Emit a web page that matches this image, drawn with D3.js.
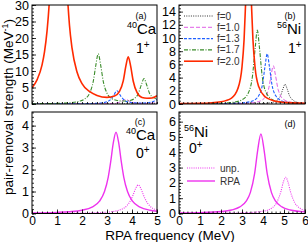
<!DOCTYPE html>
<html>
<head>
<meta charset="utf-8">
<script src="https://cdn.jsdelivr.net/npm/d3@7"></script>
<style>
body { margin: 0; background: #fff; }
svg { font-family: "Liberation Sans", Arial, sans-serif; }
</style>
</head>
<body>
<div id="chart"></div>
<script>
// ---- data: [RPA frequency (MeV), strength (MeV^-1)] ----
// (a) 40Ca 1+
var caF0  = [[0,0],[2,0.01],[3,0.015],[4,0.04],[4.5,0.08],[4.8,0.15],[5,0.25]];
var caF10 = [[0,0],[2,0.03],[3,0.09],[3.3,0.21],[3.5,0.49],[3.65,1.08],[3.75,1.42],[3.85,1.09],[4,0.52],[4.2,0.25],[4.5,0.18],[4.7,0.22],[4.85,0.31],[5,0.5]];
var caF13 = [[0,0.02],[1.5,0.04],[2.5,0.17],[2.9,0.48],[3.1,1.08],[3.25,2.4],[3.4,4.0],[3.55,2.4],[3.7,1.1],[3.9,0.53],[4.2,0.31],[4.5,0.32],[4.7,0.46],[4.85,0.74],[5,1.42]];
var caF17 = [[0,0.08],[1,0.2],[1.5,0.39],[1.9,0.86],[2.1,1.51],[2.3,3.22],[2.45,6.83],[2.55,11.6],[2.65,15.2],[2.75,11.64],[2.85,6.86],[3,3.27],[3.2,1.61],[3.5,0.95],[3.7,0.9],[3.9,1.05],[4.1,1.7],[4.25,3.1],[4.38,5.96],[4.48,7.74],[4.58,5.93],[4.71,3.1],[4.85,2.0],[5,1.6]];
var caF20 = [[0,4.9],[0.2,7.3],[0.4,11.8],[0.5,15.8],[0.6,22],[0.7,32],[0.8,51],[0.9,82],[1.06,130],[1.2,90],[1.3,56],[1.4,35.5],[1.5,23.8],[1.6,17],[1.8,9.7],[2,6.2],[2.3,3.8],[2.6,2.6],[3,2.0],[3.3,2.4],[3.5,3.8],[3.65,7.0],[3.75,11.3],[3.85,14.3],[3.95,11.3],[4.05,6.9],[4.2,3.5],[4.4,1.95],[4.6,1.75],[4.8,1.8],[5,2.5]];
// (b) 56Ni 1+
var niF0  = [[0,0.004],[3,0.023],[4,0.085],[4.5,0.29],[4.82,1.14],[4.95,2.29],[5.05,3.0],[5.15,2.29],[5.28,1.14],[5.6,0.29],[6,0.1]];
var niF10 = [[0,0.009],[2,0.03],[3,0.08],[3.6,0.23],[4,0.69],[4.26,2.2],[4.39,4.43],[4.49,5.8],[4.59,4.43],[4.72,2.2],[4.98,0.69],[5.4,0.22],[6,0.08]];
var niF13 = [[0,0.014],[2,0.05],[3,0.17],[3.5,0.47],[3.8,1.28],[3.97,2.88],[4.1,5.8],[4.2,7.6],[4.3,5.8],[4.43,2.88],[4.6,1.28],[4.9,0.47],[5.4,0.17],[6,0.075]];
var niF17 = [[0,0.03],[1,0.05],[2,0.12],[2.6,0.28],[3,0.64],[3.3,1.67],[3.5,4.26],[3.63,8.56],[3.73,11.2],[3.83,8.56],[3.96,4.26],[4.16,1.67],[4.5,0.58],[5,0.22],[6,0.07]];
var niF20 = [[0,0.05],[1,0.1],[2,0.35],[2.5,0.9],[2.8,2.3],[3,5.6],[3.1,9.8],[3.2,17.5],[3.31,24.1],[3.42,17.5],[3.52,9.8],[3.62,5.6],[3.8,2.6],[4.1,1.1],[4.5,0.5],[5,0.25],[6,0.1]];
// (c) 40Ca 0+
var caUnp = [[0,0.006],[2,0.02],[3,0.06],[3.5,0.16],[3.8,0.36],[3.95,0.61],[4.05,0.86],[4.15,1.15],[4.25,1.3],[4.35,1.15],[4.45,0.86],[4.55,0.61],[4.7,0.36],[5,0.16]];
var caRpa = [[0,0.026],[1,0.051],[1.5,0.082],[2,0.15],[2.4,0.29],[2.7,0.56],[2.9,1.0],[3.05,1.66],[3.15,2.37],[3.25,3.2],[3.36,3.7],[3.47,3.2],[3.57,2.37],[3.67,1.66],[3.82,1.0],[4.02,0.56],[4.32,0.29],[4.72,0.15],[5,0.105]];
// (d) 56Ni 0+
var niUnp = [[0,0.007],[3,0.04],[4,0.15],[4.4,0.34],[4.65,0.71],[4.85,1.42],[4.97,2.06],[5.08,2.37],[5.19,2.06],[5.31,1.42],[5.51,0.71],[5.76,0.34],[6,0.2]];
var niRpa = [[0,0.03],[1,0.055],[2,0.126],[2.5,0.23],[2.9,0.43],[3.2,0.81],[3.4,1.38],[3.6,2.6],[3.75,4.16],[3.9,5.2],[4.05,4.16],[4.2,2.6],[4.4,1.38],[4.6,0.81],[4.9,0.43],[5.3,0.23],[6,0.104]];

var fLabels = ["f=0", "f=1.0", "f=1.3", "f=1.7", "f=2.0"];
var gsLabels = ["unp.", "RPA"];

var xTicksCa = [0, 1, 2, 3, 4, 5];
var xTicksNi = [0, 1, 2, 3, 4, 5, 6];
var yTicksA = [0, 5, 10, 15, 20, 25, 30];
var yTicksB = [0, 2, 4, 6, 8, 10, 12, 14];
var yTicksC = [0, 1, 2, 3, 4];
var yTicksD = [0, 1, 2, 3, 4, 5, 6];

// line styles
var fStyles = [
  {color: "#333333", dash: "1,1.3", width: 1},
  {color: "#e060e6", dash: "4,2", width: 1},
  {color: "#1f5fff", dash: "3,1.5", width: 1.1},
  {color: "#3a8c2a", dash: "4,1.5,1,1.5", width: 1.1},
  {color: "#ff2a00", dash: null, width: 1.6}
];
var gsStyles = [
  {color: "#ee33ee", dash: "1,1.2", width: 1.1},
  {color: "#ee33ee", dash: null, width: 1.4}
];

var W = 308, H = 242;
var svg = d3.select("#chart").append("svg")
  .attr("width", W)
  .attr("height", H);

function drawPanel(id, box, xMax, yMax, xTicks, yTicks, xMinor, yMinor, showXLabels, series, styles) {
  var x = d3.scaleLinear().domain([0, xMax]).range([box.x0, box.x1]);
  var y = d3.scaleLinear().domain([0, yMax]).range([box.y1, box.y0]);

  svg.append("clipPath").attr("id", "clip-" + id)
    .append("rect")
    .attr("x", box.x0).attr("y", box.y0)
    .attr("width", box.x1 - box.x0).attr("height", box.y1 - box.y0);

  var line = d3.line()
    .x(d => x(d[0]))
    .y(d => y(d[1]))
    .curve(d3.curveMonotoneX);

  var g = svg.append("g").attr("clip-path", "url(#clip-" + id + ")");
  series.forEach(function(s, i) {
    g.append("path")
      .attr("d", line(s))
      .attr("fill", "none")
      .attr("stroke", styles[i].color)
      .attr("stroke-width", styles[i].width)
      .attr("stroke-dasharray", styles[i].dash);
  });

  // minor ticks
  svg.append("g")
    .attr("transform", "translate(0," + box.y1 + ")")
    .call(d3.axisBottom(x).tickValues(d3.range(0, xMax + 0.001, xMinor)).tickSize(-2).tickFormat(""))
    .call(a => a.select(".domain").remove());
  svg.append("g")
    .attr("transform", "translate(" + box.x0 + ",0)")
    .call(d3.axisLeft(y).tickValues(d3.range(0, yMax + 0.001, yMinor)).tickSize(-2).tickFormat(""))
    .call(a => a.select(".domain").remove());

  // major ticks + labels
  var xa = svg.append("g")
    .attr("transform", "translate(0," + box.y1 + ")")
    .call(d3.axisBottom(x).tickValues(xTicks).tickSize(-4).tickPadding(3).tickFormat(showXLabels ? d3.format("d") : ""));
  xa.select(".domain").remove();
  xa.selectAll("text").attr("font-size", 12).attr("fill", "#000").attr("font-family", null);

  var ya = svg.append("g")
    .attr("transform", "translate(" + box.x0 + ",0)")
    .call(d3.axisLeft(y).tickValues(yTicks).tickSize(-4).tickPadding(3).tickFormat(d3.format("d")));
  ya.select(".domain").remove();
  ya.selectAll("text").attr("font-size", 12.5).attr("fill", "#000").attr("font-family", null);

  svg.selectAll(".tick line").attr("stroke", "#000").attr("stroke-width", 0.8);

  // frame
  svg.append("rect")
    .attr("x", box.x0).attr("y", box.y0)
    .attr("width", box.x1 - box.x0).attr("height", box.y1 - box.y0)
    .attr("fill", "none")
    .attr("stroke", "#000")
    .attr("stroke-width", 1);
}

function nucleus(xp, yp, mass, name) {
  var t = svg.append("text").attr("x", xp).attr("y", yp).attr("fill", "#000");
  t.append("tspan").text(mass).attr("font-size", 9).attr("dy", -6);
  t.append("tspan").text(name).attr("font-size", 15).attr("dy", 6);
}
function spin(xp, yp, j, parity) {
  var t = svg.append("text").attr("x", xp).attr("y", yp).attr("fill", "#000");
  t.append("tspan").text(j).attr("font-size", 14);
  t.append("tspan").text(parity).attr("font-size", 10).attr("dy", -5);
}
function tag(xp, yp, s) {
  svg.append("text").attr("x", xp).attr("y", yp).attr("font-size", 9)
    .attr("text-anchor", "middle").text(s);
}

var boxA = {x0: 32, x1: 157, y0: 5, y1: 104};
var boxB = {x0: 179, x1: 305, y0: 5, y1: 104};
var boxC = {x0: 32, x1: 157, y0: 112, y1: 213.5};
var boxD = {x0: 179, x1: 305, y0: 112, y1: 213.5};

drawPanel("a", boxA, 5, 30, [], yTicksA, 0.2, 1, false, [caF0, caF10, caF13, caF17, caF20], fStyles);
drawPanel("b", boxB, 6, 15, [], yTicksB, 0.2, 0.5, false, [niF0, niF10, niF13, niF17, niF20], fStyles);
drawPanel("c", boxC, 5, 4.62, xTicksCa, yTicksC, 0.2, 0.2, true, [caUnp, caRpa], gsStyles);
drawPanel("d", boxD, 6, 6.63, xTicksNi, yTicksD, 0.2, 0.2, true, [niUnp, niRpa], gsStyles);

// legend in (b)
fLabels.forEach(function(s, i) {
  var yy = 16 + i * 11.3;
  svg.append("line")
    .attr("x1", 184).attr("x2", 213).attr("y1", yy).attr("y2", yy)
    .attr("stroke", fStyles[i].color)
    .attr("stroke-width", fStyles[i].width)
    .attr("stroke-dasharray", fStyles[i].dash);
  svg.append("text").attr("x", 217).attr("y", yy + 3.5)
    .attr("font-size", 10).attr("fill", "#333").text(s);
});
// legend in (d)
gsLabels.forEach(function(s, i) {
  var yy = 168 + i * 13;
  svg.append("line")
    .attr("x1", 187).attr("x2", 215).attr("y1", yy).attr("y2", yy)
    .attr("stroke", gsStyles[i].color)
    .attr("stroke-width", gsStyles[i].width)
    .attr("stroke-dasharray", gsStyles[i].dash);
  svg.append("text").attr("x", 220).attr("y", yy + 3.5)
    .attr("font-size", 10).attr("fill", "#333").text(s);
});

// panel annotations
tag(141, 19, "(a)");
tag(290, 19, "(b)");
tag(140, 125, "(c)");
tag(290, 127, "(d)");
nucleus(127, 34, "40", "Ca");
nucleus(277, 34, "56", "Ni");
nucleus(126, 140, "40", "Ca");
nucleus(184, 137, "56", "Ni");
spin(136, 53, "1", "+");
spin(288, 53, "1", "+");
spin(136, 158, "0", "+");
spin(189, 153, "0", "+");

// axis titles
svg.append("text")
  .attr("x", 170).attr("y", 240)
  .attr("text-anchor", "middle")
  .attr("font-size", 13.5)
  .text("RPA frequency (MeV)");

var yt = svg.append("text")
  .attr("transform", "translate(13,107) rotate(-90)")
  .attr("text-anchor", "middle")
  .attr("font-size", 13.5);
yt.append("tspan").text("pair-removal strength (MeV");
yt.append("tspan").text("-1").attr("font-size", 9).attr("dy", -5);
yt.append("tspan").text(")").attr("dy", 5);
</script>
</body>
</html>
